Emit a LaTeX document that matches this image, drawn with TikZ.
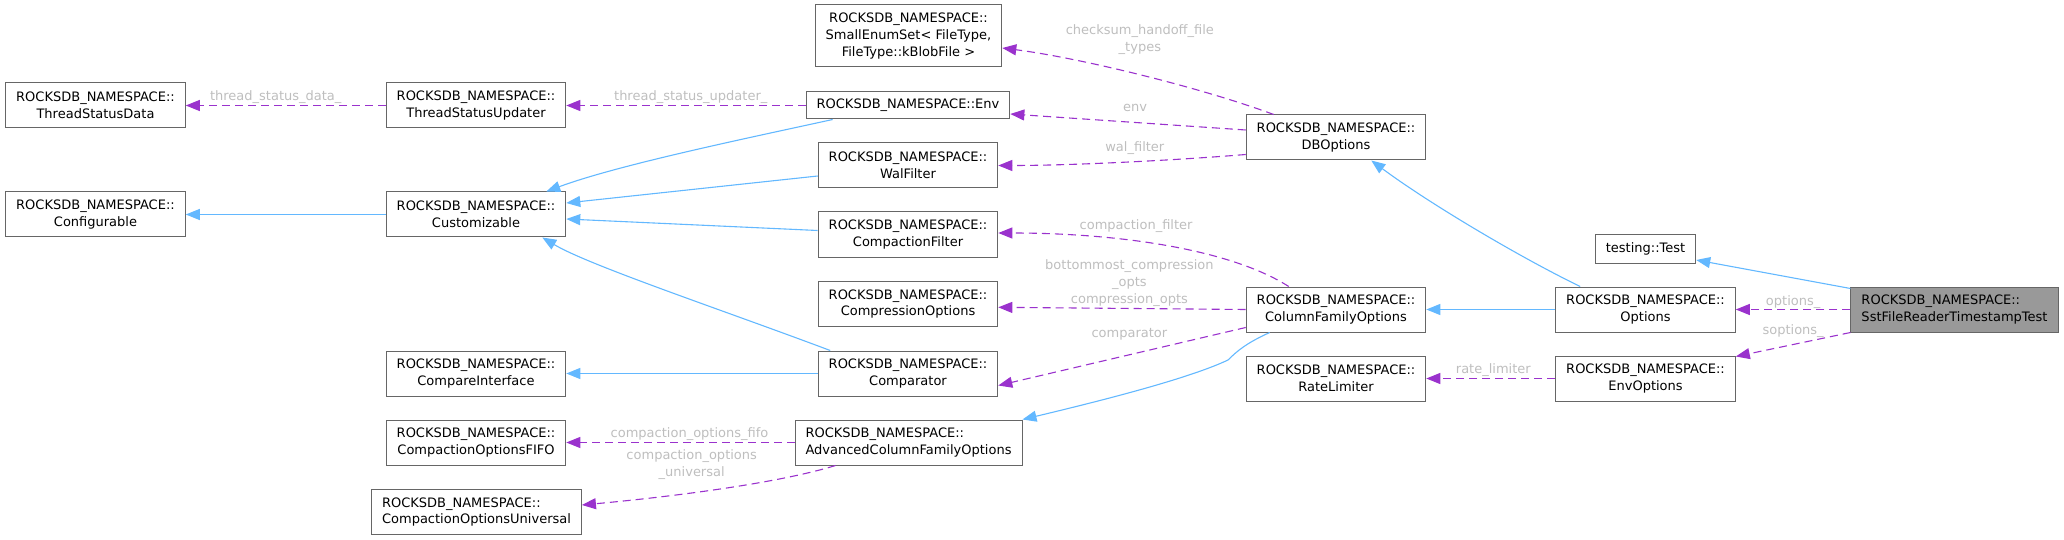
\documentclass[tikz,border=0pt]{standalone}
\usepackage{fontspec}
\setmainfont{DejaVu Sans}
\usetikzlibrary{arrows.meta}
\definecolor{inhblue}{HTML}{63B8FF}
\definecolor{usepurple}{HTML}{9A32CD}
\definecolor{lblgrey}{HTML}{BEBEBE}
\definecolor{boxgrey}{HTML}{666666}
\definecolor{curfill}{HTML}{999999}
\tikzset{cls/.style={rectangle, draw=boxgrey, line width=1pt, fill=white, minimum height=45pt, inner xsep=10.5pt, inner ysep=2pt, align=center, font=\fontsize{13}{16.7}\selectfont},
    inh/.style={draw=inhblue, line width=1.1pt, -{Triangle[length=14pt,width=11pt]}},
    uses/.style={draw=usepurple, line width=1.1pt, dash pattern=on 8pt off 5pt, -{Triangle[length=14pt,width=11pt]}},
    lbl/.style={text=lblgrey, font=\fontsize{13}{17}\selectfont, align=center, inner sep=1pt}}

\begin{document}
\begin{tikzpicture}[x=1pt, y=-1pt]
        \useasboundingbox (0,0) rectangle (2064,540);
        \node[cls] (tsd) at (95.5,105.5) {ROCKSDB\_NAMESPACE::\\ThreadStatusData};
        \node[cls] (tsu) at (476,105.5) {ROCKSDB\_NAMESPACE::\\ThreadStatusUpdater};
        \node[cls] (conf) at (95.5,214.5) {ROCKSDB\_NAMESPACE::\\Configurable};
        \node[cls] (cust) at (476,214.5) {ROCKSDB\_NAMESPACE::\\Customizable};
        \node[cls] (cmpi) at (476,373.5) {ROCKSDB\_NAMESPACE::\\CompareInterface};
        \node[cls] (fifo) at (476,442.5) {ROCKSDB\_NAMESPACE::\\CompactionOptionsFIFO};
        \node[cls, align=left] (univ) at (476.5,512) {ROCKSDB\_NAMESPACE::\\CompactionOptionsUniversal};
        \node[cls, minimum height=62pt] (senum) at (908.5,36) {ROCKSDB\_NAMESPACE::\\SmallEnumSet< FileType,\\FileType::kBlobFile >};
        \node[cls, minimum height=27pt] (env) at (908,105.5) {ROCKSDB\_NAMESPACE::Env};
        \node[cls] (wal) at (908,165.5) {ROCKSDB\_NAMESPACE::\\WalFilter};
        \node[cls] (cfilt) at (908,234.5) {ROCKSDB\_NAMESPACE::\\CompactionFilter};
        \node[cls] (comp) at (908,304) {ROCKSDB\_NAMESPACE::\\CompressionOptions};
        \node[cls] (cmp) at (908,373.5) {ROCKSDB\_NAMESPACE::\\Comparator};
        \node[cls, align=left] (acfo) at (908.5,442.5) {ROCKSDB\_NAMESPACE::\\AdvancedColumnFamilyOptions};
        \node[cls] (dbo) at (1336,137.5) {ROCKSDB\_NAMESPACE::\\DBOptions};
        \node[cls] (cfo) at (1336,309.5) {ROCKSDB\_NAMESPACE::\\ColumnFamilyOptions};
        \node[cls] (rate) at (1336,378.5) {ROCKSDB\_NAMESPACE::\\RateLimiter};
        \node[cls, minimum height=28pt] (test) at (1645.5,249) {testing::Test};
        \node[cls] (opts) at (1645.5,309.5) {ROCKSDB\_NAMESPACE::\\Options};
        \node[cls] (envo) at (1645.5,378.5) {ROCKSDB\_NAMESPACE::\\EnvOptions};
        \node[cls, fill=curfill, align=left] (sst) at (1954.5,309.5) {ROCKSDB\_NAMESPACE::\\SstFileReaderTimestampTest};

        \draw (cust.west) edge[inh] (conf.east)
            ([yshift=-10.5pt]wal.west) edge[inh] ([yshift=11.5pt]cust.east)
            ([yshift=4pt]cfilt.west) edge[inh] ([yshift=-4.5pt]cust.east)
            (cmp.west) edge[inh] (cmpi.east)
            (opts.west) edge[inh] (cfo.east)
            ([yshift=-2pt]sst.north west) edge[inh] ([yshift=-11pt]test.east);
        \draw[inh] ([xshift=27pt]env.south west) .. controls +(-82,18) and +(73,-27) .. ([xshift=-20pt]cust.north east);
        \draw[inh] ([xshift=12.5pt]cmp.north west) .. controls +(-109,-41) and +(47,28) .. ([xshift=-24pt]cust.south east);
        \draw[inh] ([xshift=24pt]cfo.south west) .. controls +(-22,10) and +(10,-10) .. (1228,360) .. controls +(-38,18) and +(84,-20) .. (acfo.north east);
        \draw[inh] ([xshift=25pt]opts.north west) .. controls +(-60,-29) and +(58,43) .. ([xshift=-55pt]dbo.south east);

        \draw (tsu.west) edge[uses] node[lbl, pos=0.55, yshift=8pt] {thread\_status\_data\_} (tsd.east)
            (env.west) edge[uses] node[lbl, pos=0.48, yshift=8.5pt] {thread\_status\_updater\_} (tsu.east)
            (acfo.west) edge[uses] node[lbl, pos=0.46, yshift=8.5pt] {compaction\_options\_fifo} (fifo.east)
            ([yshift=7.5pt]dbo.west) edge[uses] node[lbl, pos=0.47, yshift=15pt] {env} ([yshift=-8.5pt]env.east)
            (cfo.west) edge[uses] node[lbl, pos=0.47, yshift=25.5pt] {bottommost\_compression\\\_opts\\compression\_opts} ([yshift=-3.3pt]comp.east)
            ([yshift=-18pt]cfo.west) edge[uses] node[lbl, pos=0.47, yshift=20pt] {comparator} ([yshift=-12pt]cmp.east)
            (envo.west) edge[uses] node[lbl, pos=0.48, yshift=8.5pt] {rate\_limiter} (rate.east)
            (sst.west) edge[uses] node[lbl, pos=0.5, yshift=7.5pt] {options\_} (opts.east)
            (sst.south west) edge[uses] node[lbl, pos=0.5, yshift=13pt] {soptions\_} ([yshift=-1pt]envo.north east);
        \draw[uses] ([xshift=41pt]acfo.south west) .. controls +(-55,17) and +(97,-9) .. node[lbl, pos=0.62, yshift=28pt] {compaction\_options\\\_universal} ([yshift=7pt]univ.east);
        \draw[uses] ([xshift=28pt]dbo.north west) .. controls +(-73,-27) and +(78,10) .. node[lbl, pos=0.5, yshift=35pt] {checksum\_handoff\_file\\\_types} ([yshift=-12pt]senum.east);
        \draw[uses] ([yshift=-17pt]dbo.west) .. controls +(-60,5) and +(80,0) .. node[lbl, pos=0.48, yshift=13.5pt] {wal\_filter} (wal.east);
        \draw[uses] ([xshift=43pt]cfo.north west) .. controls +(-58,-37) and +(121,0) .. node[lbl, pos=0.6, yshift=15.5pt] {compaction\_filter} ([yshift=1.5pt]cfilt.east);
\end{tikzpicture}
\end{document}
